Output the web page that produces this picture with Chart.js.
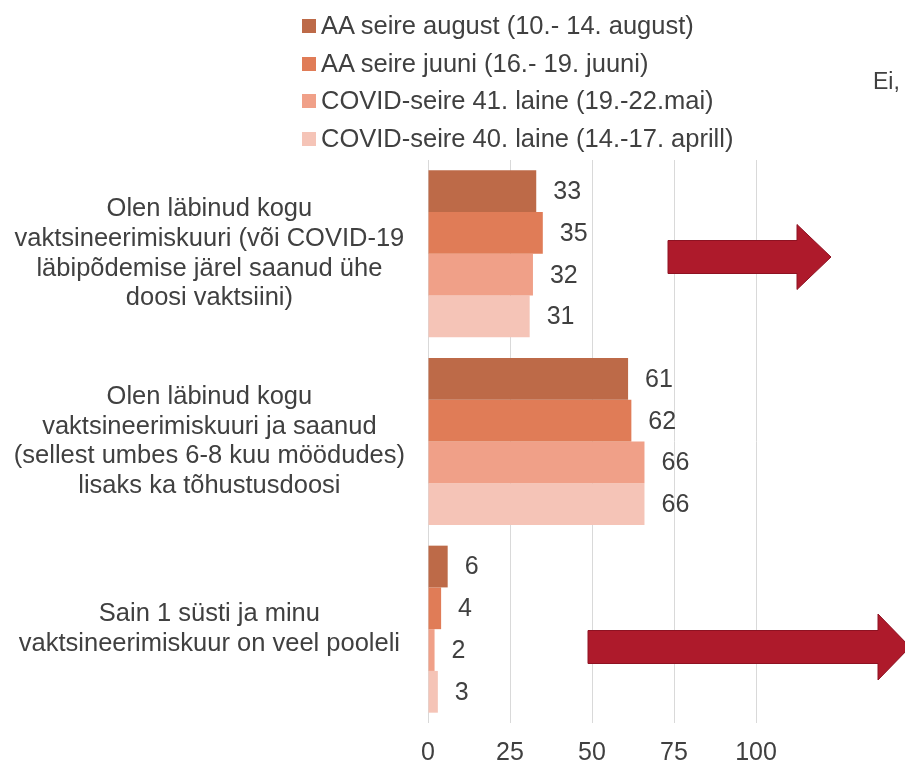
<!DOCTYPE html>
<html>
<head>
<meta charset="utf-8">
<script src="https://cdn.jsdelivr.net/npm/chart.js@4"></script>
<style>
  body { margin: 0; background: #fff; font-family: 'Liberation Sans', Arial, sans-serif; color: #404040; }
  #wrap { position: relative; width: 905px; height: 767px; overflow: hidden; }
  #legend { position: absolute; left: 302px; top: 0; }
  .row { position: absolute; left: 0; white-space: nowrap; font-size: 25.5px; height: 30px; line-height: 30px; }
  .box { display: inline-block; width: 14px; height: 14px; margin-right: 5px; vertical-align: 1px; }
  #ei { position: absolute; left: 873px; top: 68px; font-size: 23px; }
</style>
</head>
<body>
<div id="wrap">
  <canvas id="myChart" width="905" height="767"></canvas>
  <div id="legend"></div>
  <div id="ei">Ei,</div>
</div>
<script>
// kategooriad (y telg)
const categories = [
  ['Olen läbinud kogu', 'vaktsineerimiskuuri (või COVID-19', 'läbipõdemise järel saanud ühe', 'doosi vaktsiini)'],
  ['Olen läbinud kogu', 'vaktsineerimiskuuri ja saanud', '(sellest umbes 6-8 kuu möödudes)', 'lisaks ka tõhustusdoosi'],
  ['Sain 1 süsti ja minu', 'vaktsineerimiskuur on veel pooleli']
];

const seriesNames = [
  'AA seire august (10.- 14. august)',
  'AA seire juuni (16.- 19. juuni)',
  'COVID-seire 41. laine (19.-22.mai)',
  'COVID-seire 40. laine (14.-17. aprill)'
];
const seriesColors = ['#BD6A48', '#E07C57', '#F0A088', '#F5C4B7'];

const augustValues = [33, 61, 6];
const juuniValues = [35, 62, 4];
const maiValues = [32, 66, 2];
const aprillValues = [31, 66, 3];

const xTicks = [0, 25, 50, 75, 100];

const seriesValues = [augustValues, juuniValues, maiValues, aprillValues];

// legend
const legend = document.getElementById('legend');
seriesNames.forEach((name, i) => {
  const row = document.createElement('div');
  row.className = 'row';
  row.style.top = (10 + i * 37.5) + 'px';
  row.innerHTML = `<span class="box" style="background:${seriesColors[i]}"></span>${name}`;
  legend.appendChild(row);
});

// väärtused tulpade kõrval
const valueLabels = {
  id: 'valueLabels',
  afterDatasetsDraw(chart) {
    const ctx = chart.ctx;
    ctx.save();
    ctx.font = '25px "Liberation Sans", Arial, sans-serif';
    ctx.fillStyle = '#404040';
    ctx.textAlign = 'left';
    ctx.textBaseline = 'middle';
    chart.data.datasets.forEach((ds, i) => {
      chart.getDatasetMeta(i).data.forEach((bar, j) => {
        ctx.fillText(ds.data[j], bar.x + 17, bar.y + 1);
      });
    });
    ctx.restore();
  }
};

// punased nooled
const arrows = {
  id: 'arrows',
  afterDraw(chart) {
    const ctx = chart.ctx;
    const draw = (x0, xb, xt, cy, bh, hh) => {
      ctx.beginPath();
      ctx.moveTo(x0, cy - bh);
      ctx.lineTo(xb, cy - bh);
      ctx.lineTo(xb, cy - hh);
      ctx.lineTo(xt, cy);
      ctx.lineTo(xb, cy + hh);
      ctx.lineTo(xb, cy + bh);
      ctx.lineTo(x0, cy + bh);
      ctx.closePath();
      ctx.fill();
      ctx.stroke();
    };
    ctx.save();
    ctx.fillStyle = '#AE1A2B';
    ctx.strokeStyle = '#8E1222';
    ctx.lineWidth = 1;
    draw(668, 797, 831, 257, 16.5, 32.5);
    draw(588, 878, 910, 647, 16.5, 33);
    ctx.restore();
  }
};

new Chart(document.getElementById('myChart'), {
  type: 'bar',
  data: {
    labels: categories,
    datasets: seriesNames.map((name, i) => ({
      label: name,
      data: seriesValues[i],
      backgroundColor: seriesColors[i],
      borderWidth: 0,
      categoryPercentage: 0.89,
      barPercentage: 1.0
    }))
  },
  options: {
    indexAxis: 'y',
    responsive: false,
    animation: false,
    layout: { padding: { top: 160, right: 149, bottom: 0, left: 0 } },
    plugins: {
      legend: { display: false },
      tooltip: { enabled: false }
    },
    scales: {
      x: {
        min: 0,
        max: 100,
        afterBuildTicks: s => { s.ticks = xTicks.map(v => ({ value: v })); },
        afterFit: s => { s.height = 44; s.paddingLeft = 0; s.paddingRight = 0; },
        ticks: {
          color: '#404040',
          padding: 15,
          maxRotation: 0,
          font: { family: 'Liberation Sans', size: 25 }
        },
        grid: { color: '#D9D9D9', drawTicks: false },
        border: { display: false }
      },
      y: {
        afterFit: s => { s.width = 428; s.paddingTop = 0; s.paddingBottom = 0; },
        ticks: {
          color: '#404040',
          crossAlign: 'center',
          padding: 15,
          font: { family: 'Liberation Sans', size: 25.5, lineHeight: 1.16 }
        },
        grid: { display: false },
        border: { display: false }
      }
    }
  },
  plugins: [valueLabels, arrows]
});
</script>
</body>
</html>
